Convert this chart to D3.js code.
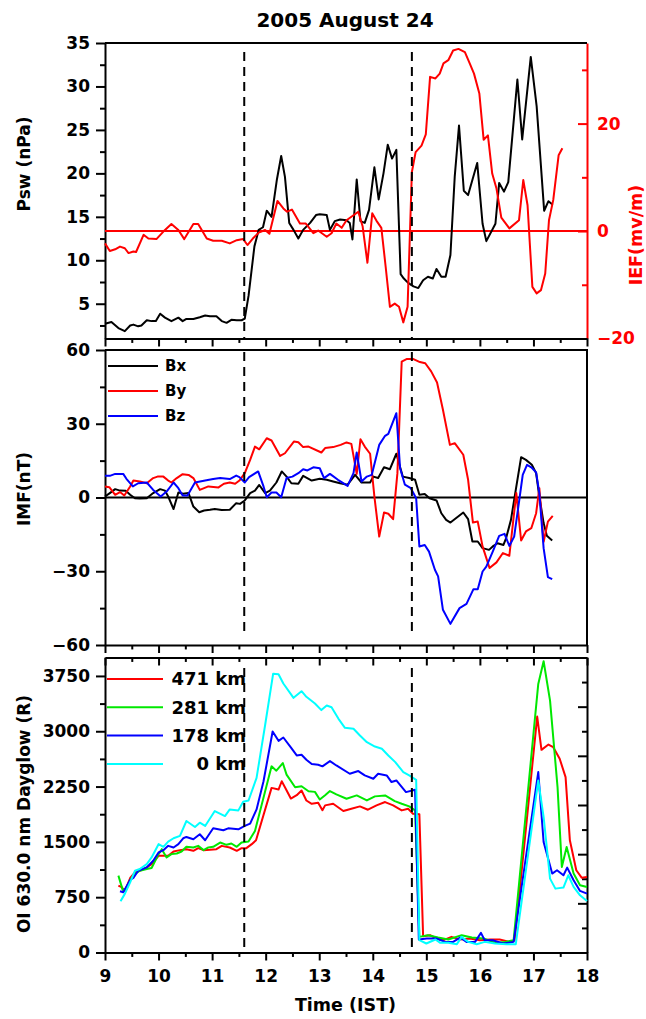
<!DOCTYPE html>
<html lang="en">
<head>
<meta charset="UTF-8">
<script src="https://d3js.org/d3.v7.min.js"></script>
<title>2005 August 24</title>
<style>
    body { margin: 0; background: #fff; }
    svg { display: block; }
    text { font-family: "DejaVu Sans", sans-serif; font-weight: bold; }
    .axis path, .axis line { stroke: #000; stroke-width: 2; }
    .axis text { font-size: 17px; font-family: "DejaVu Sans", sans-serif; font-weight: bold; fill: #000; }
    .red path, .red line { stroke: #f00; }
    .red text { fill: #f00; }
    .series { fill: none; stroke-width: 2; stroke-linejoin: round; }
</style>
</head>
<body>
<svg id="chart" width="646" height="1019"></svg>
<script>
// [time (IST, h), value]

const psw = [[9.0,2.7],[9.12,2.9],[9.25,2.2],[9.37,1.85],[9.47,2.5],[9.53,2.6],[9.62,2.4],[9.68,2.5],[9.78,3.1],[9.87,3.0],[9.95,3.0],[10.03,3.85],[10.12,3.4],[10.24,3.0],[10.37,3.4],[10.45,3.0],[10.52,3.25],[10.65,3.25],[10.77,3.45],[10.87,3.65],[10.96,3.55],[11.08,3.55],[11.18,3.0],[11.27,2.8],[11.36,3.15],[11.46,3.1],[11.55,3.1],[11.61,3.3],[11.68,5.9],[11.79,11.6],[11.87,13.5],[11.95,13.8],[12.02,15.7],[12.11,15.0],[12.21,19.3],[12.29,22.0],[12.36,19.6],[12.44,14.3],[12.52,13.5],[12.61,12.5],[12.70,13.5],[12.83,14.3],[12.94,15.2],[13.01,15.3],[13.14,15.2],[13.2,13.5],[13.29,14.5],[13.39,14.7],[13.51,14.6],[13.57,14.3],[13.62,12.4],[13.70,19.3],[13.77,14.5],[13.85,14.3],[13.93,15.8],[14.03,20.7],[14.11,17.0],[14.2,20.0],[14.28,23.3],[14.36,21.7],[14.44,22.7],[14.52,8.4],[14.58,7.9],[14.66,7.4],[14.76,7.0],[14.85,6.8],[14.94,7.7],[15.03,8.1],[15.12,7.9],[15.19,9.0],[15.28,8.1],[15.36,8.1],[15.45,10.6],[15.53,19.6],[15.61,25.5],[15.70,18.0],[15.78,17.5],[15.95,21.2],[16.05,14.2],[16.12,12.2],[16.29,14.2],[16.36,18.9],[16.45,17.9],[16.53,19.0],[16.70,30.8],[16.79,23.9],[16.95,33.4],[17.06,27.7],[17.2,15.7],[17.28,16.8],[17.36,16.4]];

const ief = [[9.0,-2.3],[9.09,-3.7],[9.19,-3.4],[9.28,-2.9],[9.37,-3.2],[9.44,-4.1],[9.53,-3.8],[9.58,-3.9],[9.72,-0.7],[9.81,-1.4],[9.96,-1.5],[10.09,-0.1],[10.24,1.3],[10.37,0.2],[10.48,-1.5],[10.65,1.3],[10.74,1.3],[10.9,-1.4],[11.02,-1.8],[11.18,-1.8],[11.33,-2.3],[11.46,-1.7],[11.58,-1.5],[11.66,-2.6],[11.76,-1.4],[11.87,-0.3],[11.99,0.2],[12.07,-0.5],[12.22,5.6],[12.33,4.2],[12.40,3.6],[12.49,4.0],[12.64,1.4],[12.75,1.4],[12.89,-0.4],[12.98,0.1],[13.14,-1.05],[13.23,-0.4],[13.32,1.4],[13.42,0.6],[13.51,2.0],[13.73,3.6],[13.81,0.9],[13.90,-5.9],[13.99,3.3],[14.07,1.9],[14.16,0.6],[14.24,-6.6],[14.32,-14.1],[14.41,-13.5],[14.49,-14.1],[14.57,-17.0],[14.65,-14.1],[14.73,11.0],[14.80,14.7],[14.91,15.9],[14.99,18.0],[15.07,28.7],[15.17,28.4],[15.25,29.3],[15.32,31.2],[15.41,31.8],[15.5,33.6],[15.6,33.9],[15.72,33.3],[15.81,31.2],[15.89,29.3],[15.99,25.6],[16.07,17.0],[16.15,17.8],[16.23,10.7],[16.31,7.9],[16.40,2.5],[16.55,0.5],[16.73,2.0],[16.81,9.5],[16.89,4.8],[16.98,-10.4],[17.06,-11.6],[17.14,-11.0],[17.22,-7.9],[17.29,2.0],[17.37,5.8],[17.47,14.1],[17.54,15.4]];

const bx = [[9.0,0.4],[9.09,1.8],[9.19,3.4],[9.28,2.8],[9.39,2.7],[9.47,1.1],[9.56,-0.3],[9.65,-0.4],[9.78,-0.3],[9.9,1.8],[10.03,3.4],[10.12,2.8],[10.18,0.4],[10.28,-4.7],[10.37,2.0],[10.46,1.5],[10.56,1.8],[10.65,-3.7],[10.76,-6.0],[10.85,-5.3],[10.96,-5.0],[11.05,-4.7],[11.18,-5.1],[11.33,-5.0],[11.45,-2.3],[11.52,-2.6],[11.61,-1.2],[11.71,1.8],[11.8,2.8],[11.88,5.1],[11.99,1.8],[12.08,2.8],[12.2,6.1],[12.3,10.6],[12.39,8.5],[12.48,5.8],[12.61,5.6],[12.70,8.8],[12.86,6.9],[13.01,7.6],[13.14,7.2],[13.26,6.5],[13.39,5.8],[13.53,5.2],[13.67,9.2],[13.79,6.1],[13.95,6.1],[14.01,8.5],[14.10,7.9],[14.21,12.3],[14.32,11.5],[14.44,17.8],[14.56,8.5],[14.68,7.9],[14.79,7.2],[14.87,1.1],[14.97,1.4],[15.06,-0.3],[15.19,-1.2],[15.28,-6.4],[15.37,-9.1],[15.45,-10.2],[15.69,-6.1],[15.78,-8.8],[15.86,-17.9],[15.96,-17.9],[16.05,-20.6],[16.17,-21.3],[16.24,-19.9],[16.33,-18.6],[16.44,-19.3],[16.49,-16.5],[16.58,-9.1],[16.67,3.1],[16.77,16.4],[16.86,15.3],[16.97,13.3],[17.05,9.9],[17.11,0.4],[17.19,-10.4],[17.25,-15.6],[17.35,-17.5]];

const by = [[9.0,4.5],[9.08,4.2],[9.19,1.1],[9.28,2.2],[9.36,0.8],[9.47,4.5],[9.53,6.9],[9.65,6.5],[9.78,5.8],[9.9,7.9],[9.98,8.5],[10.09,8.5],[10.18,6.9],[10.24,6.1],[10.34,7.9],[10.45,9.5],[10.56,9.2],[10.65,7.9],[10.77,3.1],[10.93,4.5],[11.12,4.1],[11.22,5.6],[11.33,6.1],[11.43,5.6],[11.51,6.9],[11.61,9.9],[11.71,15.3],[11.8,20.7],[11.88,19.6],[12.02,24.1],[12.11,23.2],[12.27,16.9],[12.36,18.0],[12.53,22.8],[12.61,22.5],[12.7,20.5],[12.8,20.7],[13.04,18.3],[13.11,20.1],[13.26,20.5],[13.40,21.4],[13.51,22.4],[13.60,21.8],[13.70,9.6],[13.77,23.7],[13.85,20.7],[13.95,17.8],[14.03,0.4],[14.12,-15.9],[14.21,-6.1],[14.29,-6.6],[14.38,-8.8],[14.46,9.9],[14.54,55.3],[14.63,56.3],[14.76,56.3],[14.88,55.1],[14.98,54.6],[15.09,51.3],[15.2,46.8],[15.31,35.7],[15.44,21.4],[15.53,22.1],[15.69,17.4],[15.78,7.2],[15.87,-10.2],[15.96,-9.8],[16.05,-19.9],[16.18,-28.7],[16.31,-26.4],[16.43,-22.6],[16.55,-23.7],[16.68,1.8],[16.77,-17.5],[16.86,-13.8],[16.96,-12.5],[17.05,-6.4],[17.11,3.8],[17.19,-18.0],[17.27,-9.8],[17.36,-7.5]];

const bz = [[9.0,8.8],[9.09,8.8],[9.19,9.6],[9.34,9.6],[9.40,7.6],[9.52,4.5],[9.62,5.8],[9.78,6.1],[9.9,3.1],[10.04,0.4],[10.15,2.4],[10.28,6.1],[10.37,3.8],[10.45,0.8],[10.54,0.8],[10.68,6.1],[10.87,6.9],[11.02,7.5],[11.15,7.9],[11.33,7.5],[11.45,8.9],[11.51,8.3],[11.61,6.1],[11.69,8.3],[11.86,10.6],[11.96,4.5],[12.02,0.1],[12.11,2.0],[12.2,2.0],[12.29,0.1],[12.39,7.9],[12.50,8.5],[12.61,9.9],[12.70,11.5],[12.78,11.0],[12.89,12.3],[13.01,11.9],[13.09,7.9],[13.2,9.6],[13.35,7.2],[13.53,4.7],[13.64,9.9],[13.70,18.3],[13.79,6.5],[13.89,8.5],[13.98,9.2],[14.12,21.4],[14.23,25.1],[14.29,25.9],[14.44,34.3],[14.51,11.9],[14.60,5.2],[14.71,3.8],[14.81,-0.3],[14.87,-19.9],[14.97,-19.3],[15.05,-22.0],[15.16,-29.4],[15.22,-32.1],[15.31,-45.7],[15.45,-51.4],[15.62,-45.0],[15.75,-43.3],[15.88,-37.3],[15.96,-37.3],[16.05,-30.1],[16.12,-28.1],[16.24,-22.0],[16.36,-15.6],[16.46,-14.8],[16.55,-19.7],[16.64,-15.9],[16.74,-0.3],[16.80,9.2],[16.88,13.3],[16.96,12.3],[17.05,10.2],[17.11,1.8],[17.19,-20.6],[17.27,-32.4],[17.35,-33.2]];

const km471 = [[9.25,907],[9.31,885],[9.37,831],[9.47,1010],[9.56,1087],[9.68,1118],[9.78,1154],[9.87,1199],[10.0,1311],[10.09,1311],[10.18,1311],[10.28,1370],[10.40,1388],[10.52,1401],[10.65,1379],[10.74,1415],[10.84,1388],[10.96,1392],[11.08,1401],[11.18,1446],[11.33,1424],[11.46,1379],[11.55,1415],[11.64,1415],[11.74,1469],[11.82,1522],[12.11,2232],[12.24,2210],[12.30,2322],[12.36,2241],[12.47,2088],[12.58,2133],[12.67,2196],[12.76,2061],[12.86,2016],[12.98,2030],[13.06,1930],[13.11,1995],[13.26,2017],[13.45,1918],[13.60,1950],[13.76,1981],[13.91,1936],[14.07,1995],[14.23,2040],[14.38,1995],[14.54,1927],[14.66,1950],[14.75,1882],[14.87,1873],[14.94,221],[15.07,235],[15.19,190],[15.32,167],[15.47,212],[15.63,176],[15.81,190],[16.0,167],[16.19,176],[16.37,176],[16.56,144],[16.65,167],[17.07,3199],[17.15,2748],[17.28,2820],[17.37,2784],[17.49,2627],[17.6,2378],[17.68,1521],[17.8,1115],[17.9,1015],[18.0,1024]];

const km281 = [[9.25,1042],[9.33,849],[9.40,862],[9.47,984],[9.56,1064],[9.65,1109],[9.78,1132],[9.87,1145],[10.0,1334],[10.06,1401],[10.15,1289],[10.24,1334],[10.34,1343],[10.43,1370],[10.52,1433],[10.65,1424],[10.74,1446],[10.84,1388],[10.93,1424],[11.02,1433],[11.15,1491],[11.27,1460],[11.36,1478],[11.46,1433],[11.55,1491],[11.68,1504],[11.8,1648],[12.11,2524],[12.2,2466],[12.32,2569],[12.39,2412],[12.55,2241],[12.67,2254],[12.80,2187],[12.92,2178],[13.01,2075],[13.11,2133],[13.2,2189],[13.32,2144],[13.51,2085],[13.70,2130],[13.89,2062],[14.04,2117],[14.23,2130],[14.41,2053],[14.54,2017],[14.68,1981],[14.79,1927],[14.87,212],[15.03,235],[15.22,203],[15.41,176],[15.66,235],[15.85,203],[16.07,190],[16.29,131],[16.47,144],[16.63,167],[17.09,3642],[17.19,3949],[17.31,3416],[17.45,2243],[17.53,1160],[17.62,1431],[17.75,1070],[17.87,912],[18.0,889]];

const km178 = [[9.28,831],[9.34,817],[9.47,984],[9.53,1010],[9.62,1109],[9.78,1154],[9.9,1244],[10.0,1356],[10.09,1388],[10.18,1446],[10.28,1424],[10.37,1469],[10.46,1549],[10.52,1567],[10.65,1536],[10.77,1603],[10.87,1522],[11.02,1684],[11.21,1657],[11.30,1684],[11.49,1671],[11.61,1716],[11.71,1747],[11.83,1940],[11.96,2322],[12.13,2996],[12.24,2870],[12.33,2915],[12.48,2771],[12.58,2672],[12.67,2681],[12.76,2614],[12.86,2555],[12.98,2546],[13.06,2524],[13.2,2595],[13.32,2536],[13.57,2424],[13.73,2460],[13.85,2401],[14.01,2356],[14.10,2424],[14.26,2401],[14.35,2311],[14.44,2333],[14.62,2175],[14.79,2207],[14.86,176],[15.01,190],[15.19,190],[15.35,144],[15.50,144],[15.63,203],[15.75,144],[15.91,144],[16.02,266],[16.09,167],[16.24,167],[16.43,122],[16.63,144],[17.09,2446],[17.19,1498],[17.35,1070],[17.44,1115],[17.56,1047],[17.63,1151],[17.75,979],[17.87,835],[18.0,799]];

const km0 = [[9.29,696],[9.37,795],[9.47,952],[9.56,1109],[9.65,1132],[9.78,1199],[9.87,1289],[10.0,1469],[10.09,1433],[10.18,1504],[10.28,1549],[10.40,1581],[10.52,1783],[10.68,1702],[10.77,1760],[10.87,1716],[11.05,1918],[11.24,1850],[11.33,1940],[11.49,1927],[11.58,2043],[11.68,2061],[11.83,2367],[11.99,3085],[12.14,3781],[12.24,3772],[12.33,3647],[12.52,3453],[12.67,3543],[12.76,3467],[12.92,3377],[13.04,3287],[13.14,3349],[13.23,3326],[13.36,3168],[13.48,3046],[13.64,3033],[13.76,2942],[13.89,2852],[14.04,2793],[14.17,2762],[14.29,2672],[14.42,2581],[14.57,2446],[14.68,2401],[14.81,2342],[14.87,167],[15.0,122],[15.17,176],[15.26,131],[15.41,131],[15.57,113],[15.66,212],[15.78,144],[15.94,113],[16.09,144],[16.28,122],[16.50,113],[16.67,113],[17.09,2333],[17.19,1837],[17.31,1002],[17.41,866],[17.56,880],[17.65,1047],[17.75,889],[17.87,776],[18.0,699]];

const shockTimes = [11.6, 14.73];
const hourTicks = d3.range(9, 19, 1);
const halfTicks = d3.range(9.5, 18, 1);
const pswTicks = [5, 10, 15, 20, 25, 30, 35];
const iefTicks = [-20, 0, 20];
const imfTicks = [-60, -30, 0, 30, 60];
const glowTicks = [0, 750, 1500, 2250, 3000, 3750];

const imfLegend = [{ name: 'Bx', color: '#000', data: bx }, { name: 'By', color: '#f00', data: by }, { name: 'Bz', color: '#00f', data: bz }];
const glowLegend = [{ name: '471 km', color: '#f00', data: km471 }, { name: '281 km', color: '#00e800', data: km281 },
    { name: '178 km', color: '#00f', data: km178 }, { name: '0 km', color: '#0ff', data: km0 }];

const svg = d3.select('#chart');
const L = 105, R = 587;
const top1 = [43, 338.5], mid = [350, 645], bot = [657.5, 952.5];

const x = d3.scaleLinear().domain([9, 18]).range([L, R]);
const yPsw = d3.scaleLinear().domain([1, 35]).range([top1[1], top1[0]]);
const yIef = d3.scaleLinear().domain([-20, 35]).range([top1[1], top1[0]]);
const yImf = d3.scaleLinear().domain([-60, 60]).range([mid[1], mid[0]]);
const yGlow = d3.scaleLinear().domain([0, 4000]).range([bot[1], bot[0]]);
const yMirror = d3.scaleLinear().domain([0, 6]).range([bot[1], bot[0]]); // right side ticks of lower panel

function half(vals, step, lo, hi) {
    return d3.range(lo, hi + 1e-9, step).filter(v => !vals.includes(v));
}

// axis helper: major with labels, minor without
function axis(gen, scale, major, minor, size, trans, cls, fmt, pad) {
    const g = svg.append('g').attr('class', 'axis ' + (cls || '')).attr('transform', trans);
    g.call(gen(scale).tickValues(major).tickSize(size).tickSizeOuter(0)
        .tickPadding(pad == null ? 6 : pad).tickFormat(fmt || ''));
    if (minor.length) {
        const m = g.append('g');
        m.call(gen(scale).tickValues(minor).tickSize(size / 9 * 5).tickSizeOuter(0).tickFormat(''));
        m.select('.domain').remove();
    }
    g.attr('font-size', null).attr('font-family', null);
    return g;
}

// top panel
axis(d3.axisLeft, yPsw, pswTicks, half(pswTicks, 2.5, 2.5, 35), 9, `translate(${L},0)`, '', d3.format('d'));
axis(d3.axisRight, yIef, iefTicks, [-10, 10, 30], -9, `translate(${R},0)`, 'red', d3.format('d'), 10);
axis(d3.axisBottom, x, hourTicks, halfTicks, 8, `translate(0,${top1[1]})`, '');
svg.append('line').attr('x1', L).attr('x2', R).attr('y1', top1[0]).attr('y2', top1[0])
    .attr('stroke', '#000').attr('stroke-width', 2);

// middle panel
axis(d3.axisLeft, yImf, imfTicks, [-45, -15, 15, 45], 9, `translate(${L},0)`, '', d3.format('d'));
axis(d3.axisBottom, x, hourTicks, halfTicks, 8, `translate(0,${mid[1]})`, '');
svg.append('path').attr('d', `M${L},${mid[0]}H${R}V${mid[1]}`).attr('fill', 'none')
    .attr('stroke', '#000').attr('stroke-width', 2);

// bottom panel
axis(d3.axisLeft, yGlow, glowTicks, half(glowTicks, 375, 375, 3750), 9, `translate(${L},0)`, '', d3.format('d'));
axis(d3.axisRight, yMirror, d3.range(0, 7), d3.range(0.5, 6, 1), -9, `translate(${R},0)`, '');
axis(d3.axisTop, x, hourTicks, halfTicks, -8, `translate(0,${bot[0]})`, '');
axis(d3.axisBottom, x, hourTicks, halfTicks, 8, `translate(0,${bot[1]})`, '', d3.format('d'), 9.5);

// zero lines
svg.append('line').attr('x1', L).attr('x2', R).attr('y1', yIef(0)).attr('y2', yIef(0))
    .attr('stroke', '#f00').attr('stroke-width', 2);
svg.append('line').attr('x1', L).attr('x2', R).attr('y1', yImf(0)).attr('y2', yImf(0))
    .attr('stroke', '#000').attr('stroke-width', 2);

function series(data, y, color) {
    svg.append('path').datum(data).attr('class', 'series').attr('stroke', color)
        .attr('d', d3.line().x(d => x(d[0])).y(d => y(d[1])));
}

series(psw, yPsw, '#000');
series(ief, yIef, '#f00');
imfLegend.forEach(s => series(s.data, yImf, s.color));
glowLegend.forEach(s => series(s.data, yGlow, s.color));

// shock arrival lines
[[52, top1[1]], [352, 632], [668, 950]].forEach(r => {
    shockTimes.forEach(t => {
        svg.append('line').attr('x1', x(t)).attr('x2', x(t)).attr('y1', r[0]).attr('y2', r[1])
            .attr('stroke', '#000').attr('stroke-width', 2).attr('stroke-dasharray', '9,6');
    });
});

// legends
imfLegend.forEach((s, i) => {
    const yy = 366 + i * 25;
    svg.append('line').attr('x1', 108).attr('x2', 158).attr('y1', yy).attr('y2', yy)
        .attr('stroke', s.color).attr('stroke-width', 2);
    svg.append('text').attr('x', 165).attr('y', yy).attr('dy', '0.36em')
        .attr('font-size', 15).text(s.name);
});
glowLegend.forEach((s, i) => {
    const yy = 679 + i * 28.3;
    svg.append('line').attr('x1', 107).attr('x2', 163).attr('y1', yy).attr('y2', yy)
        .attr('stroke', s.color).attr('stroke-width', 2);
    svg.append('text').attr('x', 246).attr('y', yy).attr('dy', '0.36em')
        .attr('text-anchor', 'end').attr('font-size', 18).text(s.name);
});

// titles
svg.append('text').attr('x', 345).attr('y', 27).attr('text-anchor', 'middle')
    .attr('font-size', 20).text('2005 August 24');
svg.append('text').attr('x', 345.5).attr('y', 1011).attr('text-anchor', 'middle')
    .attr('font-size', 17.5).text('Time (IST)');

function ylabel(txt, cx, cy, color, size) {
    svg.append('text').attr('transform', `translate(${cx},${cy}) rotate(-90)`)
        .attr('text-anchor', 'middle').attr('font-size', size || 17).attr('fill', color || '#000').text(txt);
}
ylabel('Psw (nPa)', 30, 164);
ylabel('IMF(nT)', 30, 489);
ylabel('OI 630.0 nm Dayglow (R)', 30, 814);
ylabel('IEF(mv/m)', 642, 235, '#f00', 17.5);
</script>
</body>
</html>
